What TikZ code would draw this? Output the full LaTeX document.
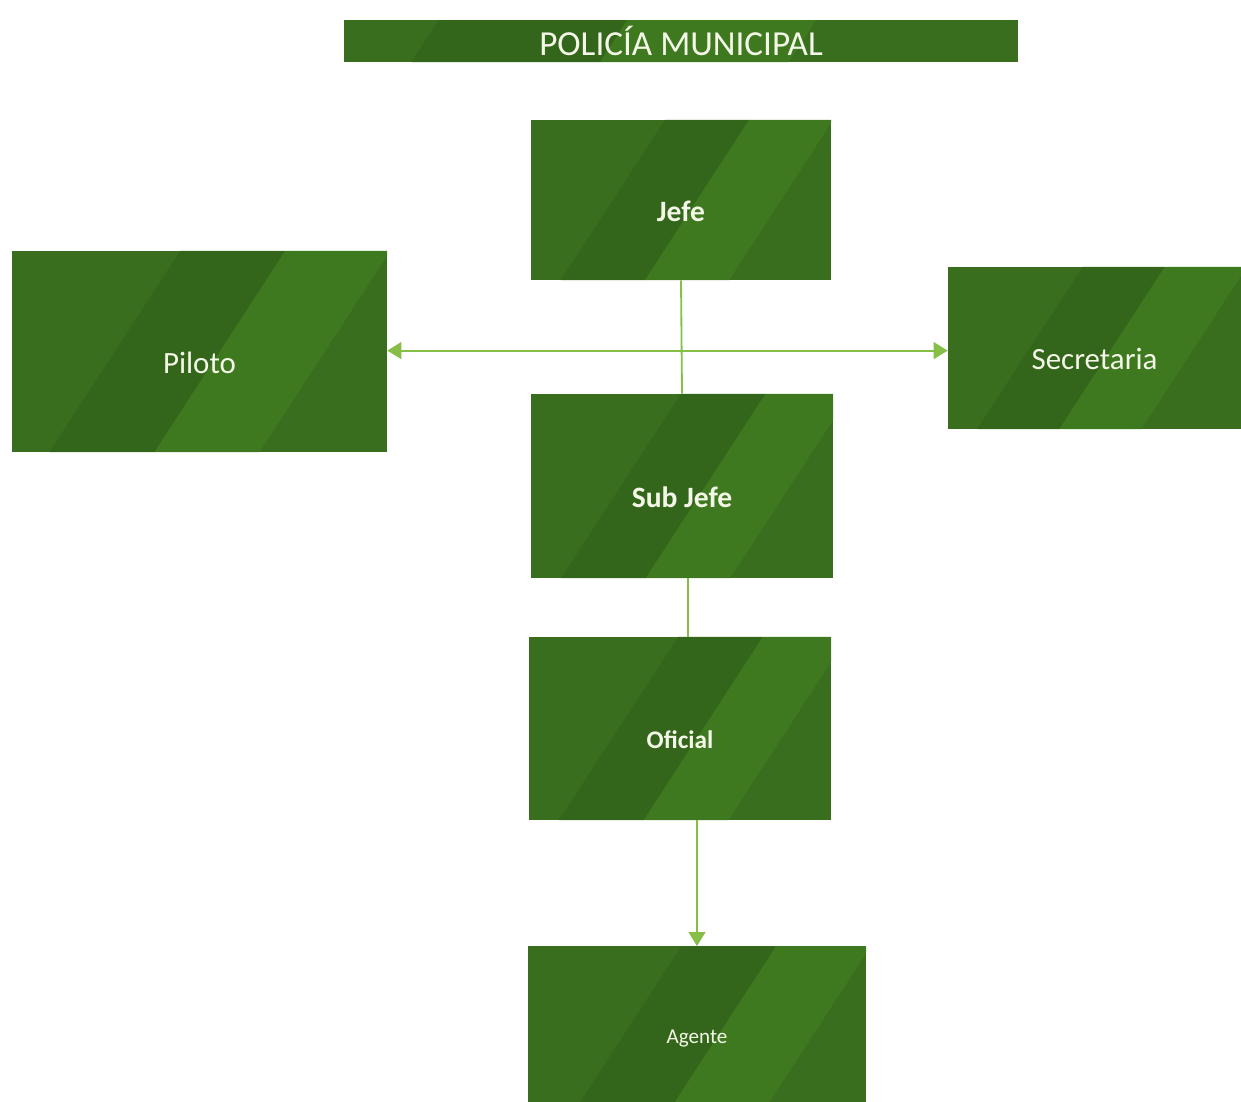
\documentclass[tikz,border=0pt]{standalone}
\usepackage{fontspec}
\setmainfont{Carlito}
\usetikzlibrary{arrows.meta,calc,positioning}
\definecolor{boxgreen}{RGB}{56,110,29}
\definecolor{boxlight}{RGB}{62,121,31}
\definecolor{boxdark}{RGB}{51,102,26}
\definecolor{linegreen}{RGB}{134,190,72}
\definecolor{textcream}{RGB}{244,247,232}

% diagonal bands inside every box
\newcommand{\greenbands}{%
  \path (path picture bounding box.south west) coordinate (bsw)
        (path picture bounding box.north east) coordinate (bne);
  \fill[boxdark] let \p1=(bsw), \p2=(bne) in
    ({\x1+0.10*(\x2-\x1)},\y1) -- ({\x1+0.38*(\x2-\x1)},\y1)
    -- ({\x1+0.38*(\x2-\x1)+0.65*(\y2-\y1)},\y2)
    -- ({\x1+0.10*(\x2-\x1)+0.65*(\y2-\y1)},\y2) -- cycle;
  \fill[boxlight] let \p1=(bsw), \p2=(bne) in
    ({\x1+0.38*(\x2-\x1)},\y1) -- ({\x1+0.66*(\x2-\x1)},\y1)
    -- ({\x1+0.66*(\x2-\x1)+0.65*(\y2-\y1)},\y2)
    -- ({\x1+0.38*(\x2-\x1)+0.65*(\y2-\y1)},\y2) -- cycle;
}

\begin{document}
\begin{tikzpicture}[x=0.025cm, y=-0.025cm,
    block_main/.style ={rectangle, fill=boxgreen, path picture=\greenbands,
      text=textcream, align=center, inner sep=0pt},
    block_title/.style ={block_main, minimum width=16.85cm, minimum height=1.05cm,
      font=\fontsize{25}{28}\selectfont},
    block_boss/.style ={block_main, text height=31pt, text depth=0pt,
      font=\fontsize{21}{24}\selectfont\bfseries},
    block_side/.style ={block_main, text height=31pt, text depth=0pt,
      font=\fontsize{22}{25}\selectfont},
    line/.style ={draw=linegreen, line width=1.3pt},
    arrow/.style ={line, -{Triangle[length=0.35cm, width=0.42cm]}}]

    \useasboundingbox (0,0) rectangle (1241,1101);

    % Place nodes
    \node [block_title] (title) at (681,41) {POLICÍA MUNICIPAL};
    \node [block_boss, minimum width=7.5cm, minimum height=4cm] (jefe) at (681,200) {Jefe};
    \node [block_side, minimum width=9.375cm, minimum height=5.025cm] (piloto) at (199.5,351.5) {Piloto};
    \node [block_side, minimum width=7.325cm, minimum height=4.05cm] (secretaria) at (1094.5,348) {Secretaria};
    \node [block_boss, minimum width=7.55cm, minimum height=4.6cm] (subjefe) at (682,486) {Sub Jefe};
    \node [block_main, minimum width=7.55cm, minimum height=4.575cm, text height=29pt,
      text depth=0pt, font=\fontsize{18}{21}\selectfont\bfseries] (oficial) at (680,728.5) {Oficial};
    \node [block_main, anchor=north, minimum width=8.45cm, minimum height=4.6cm,
      font=\fontsize{15}{18}\selectfont] (agente) at (697,946) {Agente};

    \coordinate (hub) at ($(jefe.south)!0.62!(subjefe.north)$);

    % Drawing paths
    \path [line] (jefe.south) -- (subjefe.north);
    \path [arrow] (hub) -- (hub -| piloto.east);
    \path [arrow] (hub) -- (hub -| secretaria.west);
    \path [line] (subjefe.south -| 688,0) -- (oficial.north -| 688,0);
    \path [arrow] (oficial.south -| agente.north) -- (agente.north);

\end{tikzpicture}
\end{document}
